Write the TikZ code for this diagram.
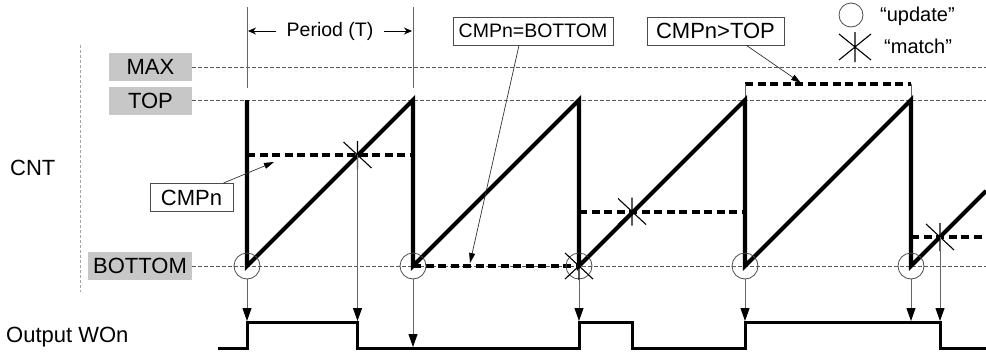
\documentclass[tikz,border=0pt]{standalone}
\usepackage{fontspec}
\setmainfont{Liberation Sans}
\usetikzlibrary{arrows.meta}
\begin{document}
\begin{tikzpicture}[x=1pt,y=-1pt,
  big/.style={font=\fontsize{22}{26}\selectfont},
  mid/.style={font=\fontsize{19.5}{23}\selectfont},
  leg/.style={font=\fontsize{20}{24}\selectfont},
  refline/.style={draw=black!65, line width=0.8pt, dash pattern=on 4pt off 2pt},
  sawline/.style={line width=4.2pt},
  cmpline/.style={line width=4pt, dash pattern=on 8pt off 4.5pt},
  outwave/.style={line width=3pt},
  thinline/.style={draw=black!60, line width=0.9pt},
  downarrow/.style={thinline, -{Triangle[width=9pt,length=13pt,color=black,fill=black]}},
  leader/.style={draw=black!80, line width=0.7pt, -{Triangle[width=6pt,length=10pt,color=black,fill=black]}},
  perarrow/.style={draw=black, line width=0.8pt, -{Stealth[width=7pt,length=8pt]}},
  updc/.style={circle, draw=black!70, line width=0.8pt, minimum size=26pt, inner sep=0pt},
  graybox/.style={fill=black!22, minimum height=28pt, inner sep=0pt, big},
  whitebox/.style={draw=black!70, line width=0.8pt, fill=white, inner sep=0pt, minimum height=28pt},
  txt/.style={inner sep=0pt},
  matchstar/.pic={\draw[line width=1.1pt] (0,-14)--(0,14) (-14,-13)--(14,13) (-14,13)--(14,-13);},
  legstar/.pic={\draw[line width=1.1pt] (0,-15)--(0,15) (-16,-13)--(16,13) (-16,13)--(16,-13);}
]
\useasboundingbox (0,0) rectangle (986,351);
\clip (0,0) rectangle (986,351);

% axis label area
\draw[draw=black!35, line width=1pt, dash pattern=on 3pt off 2pt] (80,45) -- (80,292);
\node[txt,big,anchor=west] (cnt) at (10,168) {CNT};
\node[txt,big,anchor=west] (won) at (6,337) {Output WOn};

% reference lines
\node[graybox, minimum width=83pt] (max) at (150.5,67) {MAX};
\node[graybox, minimum width=83pt] (top) at (150.5,100.5) {TOP};
\node[graybox, minimum width=104pt] (bot) at (140,266) {BOTTOM};
\coordinate (maxe) at (986,67);
\coordinate (tope) at (986,100);
\coordinate (bote) at (986,266);
\draw[refline] (max.east) -- (maxe);
\draw[refline] (top.east |- tope) -- (tope);
\draw[refline] (bot.east) -- (bote);

% period marker
\coordinate (p1t) at (247,7);  \coordinate (p1b) at (247,88);
\coordinate (p2t) at (413,7);  \coordinate (p2b) at (413,88);
\draw[thinline] (p1t) -- (p1b);
\draw[thinline] (p2t) -- (p2b);
\node[txt,mid] (per) at (330,31) {Period (T)};
\coordinate (pl) at (248,31); \coordinate (pr) at (412,31);
\coordinate (pls) at (276,31); \coordinate (prs) at (384,31);
\draw[perarrow] (pls) -- (pl);
\draw[perarrow] (prs) -- (pr);

% key points of sawtooth
\coordinate (b1) at (247,266); \coordinate (t1) at (247,100);
\coordinate (b2) at (413,266); \coordinate (t2) at (413,100);
\coordinate (b3) at (579,266); \coordinate (t3) at (579,100);
\coordinate (b4) at (745,266); \coordinate (t4) at (745,100);
\coordinate (b5) at (911,266); \coordinate (t5) at (911,100);
\coordinate (rend) at (986,191);

% compare values (thick dashed)
\coordinate (c1a) at (247,155); \coordinate (c1b) at (413,155);
\coordinate (c3a) at (579,211.5); \coordinate (c3b) at (745,211.5);
\coordinate (c4a) at (745,84); \coordinate (c4b) at (911,84);
\coordinate (c5a) at (911,237); \coordinate (c5b) at (986,237);
\draw[cmpline] (c1a) -- (c1b);
\draw[cmpline] (b2) -- (b3);
\draw[cmpline] (c3a) -- (c3b);
\draw[cmpline] (c4a) -- (c4b);
\draw[cmpline] (c5a) -- (c5b);
\draw[thinline] (c4a) -- (t4);
\draw[thinline] (c4b) -- (t5);

% sawtooth
\draw[sawline] (t1) -- (b1) -- (t2) -- (b2) -- (t3) -- (b3) -- (t4) -- (b4) -- (t5) -- (b5) -- (rend);

% update circles
\node[updc] (u1) at (b1) {};
\node[updc] (u2) at (b2) {};
\node[updc] (u3) at (b3) {};
\node[updc] (u4) at (b4) {};
\node[updc] (u5) at (b5) {};

% match points
\coordinate (m1) at (357.5,155);
\coordinate (m2) at (579,266);
\coordinate (m3) at (632,211.5);
\coordinate (m5) at (940,237);
\pic at (m1) {matchstar};
\pic at (m2) {matchstar};
\pic at (m3) {matchstar};
\pic at (m5) {matchstar};

% output waveform
\coordinate (w0) at (218,348);
\coordinate (wend) at (986,348);
\draw[outwave] (w0) -- (247,348) -- (247,322) -- (357.5,322) -- (357.5,348) -- (579,348) -- (579,322) -- (632,322) -- (632,348) -- (745,348) -- (745,322) -- (940,322) -- (940,348) -- (wend);

% arrows to output
\coordinate (o1) at (247,321);
\coordinate (o2) at (357.5,321);
\coordinate (o3) at (413,347);
\coordinate (o4) at (579,321);
\coordinate (o5s) at (632,307);
\coordinate (o5) at (632,321);
\coordinate (o6) at (745,321);
\coordinate (o7) at (911,321);
\coordinate (o8) at (940,321);
\draw[downarrow] (u1.south) -- (o1);
\draw[downarrow] (m1) -- (o2);
\draw[downarrow] (u2.south) -- (o3);
\draw[downarrow] (u3.south) -- (o4);
\draw[downarrow,draw=none] (o5s) -- (o5);
\draw[downarrow] (u4.south) -- (o6);
\draw[downarrow] (u5.south) -- (o7);
\draw[downarrow] (m5) -- (o8);

% annotation boxes
\node[whitebox, minimum width=83pt, big] (cmpn) at (191.5,197.5) {CMPn};
\node[whitebox, minimum width=160pt, mid] (cmpbot) at (533,31) {CMPn=BOTTOM};
\node[whitebox, minimum width=137pt, big] (cmptop) at (715.5,31) {CMPn>TOP};
\coordinate (l1) at (274,162);
\coordinate (l2) at (470,263);
\coordinate (l3) at (801,83);
\draw[leader] (cmpn.north east) ++(-10,0) coordinate (l1s) (l1s) -- (l1);
\draw[leader] (cmpbot.south) ++(-14,0) coordinate (l2s) (l2s) -- (l2);
\draw[leader] (cmptop.south) ++(31,0) coordinate (l3s) (l3s) -- (l3);

% legend
\node[circle, draw=black!70, line width=0.8pt, minimum size=24pt, inner sep=0pt] (legc) at (851,15) {};
\coordinate (legm) at (855,47);
\pic at (legm) {legstar};
\node[txt,leg,anchor=west] (legu) at (880,16) {“update”};
\node[txt,leg,anchor=west] (legma) at (884,46) {“match”};
\end{tikzpicture}
\end{document}
